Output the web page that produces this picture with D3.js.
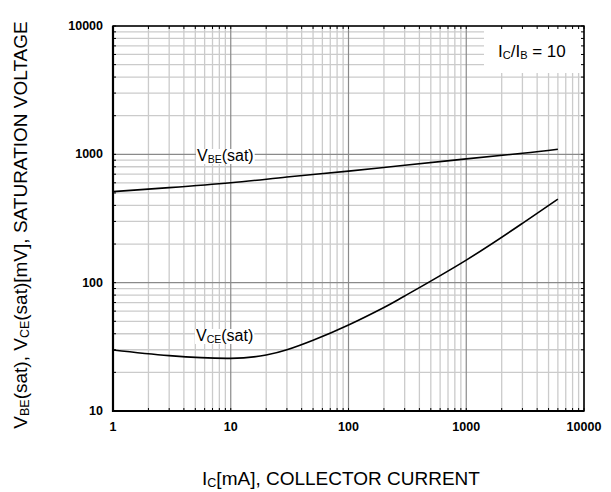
<!DOCTYPE html>
<html>
<head>
<meta charset="utf-8">
<script src="https://cdn.jsdelivr.net/npm/d3@7"></script>
<style>
  body { margin: 0; background: #fff; }
  text { font-family: "Liberation Sans", Arial, sans-serif; }
</style>
</head>
<body>
<div id="chart"></div>
<script>
// Saturation voltage vs collector current, Ic/Ib = 10
const xTicks = [1, 10, 100, 1000, 10000];
const yTicks = [10, 100, 1000, 10000];

const icVbe = [1, 3, 10, 30, 100, 300, 1000, 3000, 6000];
const vbeSat = [512, 550, 600, 665, 740, 822, 921, 1020, 1096];

const icVce = [1, 3, 10, 20, 30, 50, 100, 200, 300, 1000, 3000, 6000];
const vceSat = [29.9, 27.0, 25.7, 27.3, 30.0, 35.6, 46.8, 64.1, 78.8, 150, 290, 447];

const width = 611, height = 492;
const margin = { top: 26, right: 27, bottom: 81, left: 113 };

const svg = d3.select('#chart')
  .append('svg')
  .attr('width', width)
  .attr('height', height);

const x = d3.scaleLog()
  .domain([1, 10000])
  .range([margin.left, width - margin.right]);
const y = d3.scaleLog()
  .domain([10, 10000])
  .range([height - margin.bottom, margin.top]);

// minor / major grid values
const minorX = [], minorY = [];
for (let d = 1; d < 10000; d *= 10) for (let k = 2; k < 10; k++) minorX.push(d * k);
for (let d = 10; d < 10000; d *= 10) for (let k = 2; k < 10; k++) minorY.push(d * k);

const grid = svg.append('g');
grid.selectAll('.mx').data(minorX).join('line')
  .attr('x1', d => x(d)).attr('x2', d => x(d))
  .attr('y1', y(10)).attr('y2', y(10000))
  .attr('stroke', '#cbcbcb').attr('stroke-width', 1.3);
grid.selectAll('.my').data(minorY).join('line')
  .attr('y1', d => y(d)).attr('y2', d => y(d))
  .attr('x1', x(1)).attr('x2', x(10000))
  .attr('stroke', '#cbcbcb').attr('stroke-width', 1.3);
grid.selectAll('.Mx').data(xTicks).join('line')
  .attr('x1', d => x(d)).attr('x2', d => x(d))
  .attr('y1', y(10)).attr('y2', y(10000))
  .attr('stroke', '#8a8a8a').attr('stroke-width', 1.2);
grid.selectAll('.My').data(yTicks).join('line')
  .attr('y1', d => y(d)).attr('y2', d => y(d))
  .attr('x1', x(1)).attr('x2', x(10000))
  .attr('stroke', '#8a8a8a').attr('stroke-width', 1.2);

// legend box covering grid
svg.append('rect')
  .attr('x', 484).attr('y', y(10000) + 1)
  .attr('width', x(10000) - 484 - 1).attr('height', 46)
  .attr('fill', '#fff');
const leg = svg.append('text').attr('x', 498).attr('y', 57)
  .attr('font-size', 17).attr('fill', '#000');
leg.append('tspan').text('I');
leg.append('tspan').text('C').attr('font-size', 11).attr('dy', 2);
leg.append('tspan').text('/I').attr('dy', -2);
leg.append('tspan').text('B').attr('font-size', 11).attr('dy', 2);
leg.append('tspan').text(' = 10').attr('dy', -2);

// inner ticks
const tk = svg.append('g').attr('stroke', '#000').attr('stroke-width', 1);
const allX = minorX.concat(xTicks), allY = minorY.concat(yTicks);
tk.selectAll('.tb').data(allX).join('line')
  .attr('x1', d => x(d)).attr('x2', d => x(d))
  .attr('y1', y(10)).attr('y2', y(10) - 3);
tk.selectAll('.tt').data(allX).join('line')
  .attr('x1', d => x(d)).attr('x2', d => x(d))
  .attr('y1', y(10000)).attr('y2', y(10000) + 3);
tk.selectAll('.tl').data(allY).join('line')
  .attr('y1', d => y(d)).attr('y2', d => y(d))
  .attr('x1', x(1)).attr('x2', x(1) + 3);
tk.selectAll('.tr').data(allY).join('line')
  .attr('y1', d => y(d)).attr('y2', d => y(d))
  .attr('x1', x(10000)).attr('x2', x(10000) - 3);

// frame
svg.append('rect')
  .attr('x', x(1)).attr('y', y(10000))
  .attr('width', x(10000) - x(1)).attr('height', y(10) - y(10000))
  .attr('fill', 'none').attr('stroke', '#000').attr('stroke-width', 1.5);
svg.append('path')
  .attr('d', `M${x(1)},${y(10000)}V${y(10)}H${x(10000)}`)
  .attr('fill', 'none').attr('stroke', '#000').attr('stroke-width', 2.2);

// tick labels
svg.append('g').selectAll('text').data(xTicks).join('text')
  .attr('x', d => x(d)).attr('y', y(10) + 20)
  .attr('text-anchor', 'middle').attr('font-size', 12.5).attr('font-weight', 'bold')
  .text(d => d);
svg.append('g').selectAll('text').data(yTicks).join('text')
  .attr('x', x(1) - 10).attr('y', d => y(d) + 4)
  .attr('text-anchor', 'end').attr('font-size', 12.5).attr('font-weight', 'bold')
  .text(d => d);

// curves
const line = d3.line()
  .x(d => x(d[0])).y(d => y(d[1]))
  .curve(d3.curveNatural);
svg.append('path')
  .datum(d3.zip(icVbe, vbeSat))
  .attr('d', line)
  .attr('fill', 'none').attr('stroke', '#000').attr('stroke-width', 1.6);
svg.append('path')
  .datum(d3.zip(icVce, vceSat))
  .attr('d', line)
  .attr('fill', 'none').attr('stroke', '#000').attr('stroke-width', 1.6);

// curve labels with white background
function curveLabel(px, py, sub) {
  const g = svg.append('g');
  const t = g.append('text').attr('x', px).attr('y', py).attr('font-size', 16);
  t.append('tspan').text('V');
  t.append('tspan').text(sub).attr('font-size', 10.5).attr('dy', 2);
  t.append('tspan').text('(sat)').attr('dy', -2);
  const bb = t.node().getBBox();
  g.insert('rect', 'text')
    .attr('x', bb.x - 1).attr('y', bb.y + 2)
    .attr('width', bb.width + 2).attr('height', bb.height - 3)
    .attr('fill', '#fff');
}
curveLabel(197, 161, 'BE');
curveLabel(196, 341, 'CE');

// axis titles
const xt = svg.append('text').attr('x', 341).attr('y', 485)
  .attr('text-anchor', 'middle').attr('font-size', 19);
xt.append('tspan').text('I');
xt.append('tspan').text('C').attr('font-size', 12.5).attr('dy', 2);
xt.append('tspan').text('[mA], COLLECTOR CURRENT').attr('dy', -2);

const yt = svg.append('text')
  .attr('transform', 'translate(27,225) rotate(-90)')
  .attr('text-anchor', 'middle').attr('font-size', 19);
yt.append('tspan').text('V');
yt.append('tspan').text('BE').attr('font-size', 12.5).attr('dy', 2);
yt.append('tspan').text('(sat),  V').attr('dy', -2);
yt.append('tspan').text('CE').attr('font-size', 12.5).attr('dy', 2);
yt.append('tspan').text('(sat)[mV], SATURATION VOLTAGE').attr('dy', -2);
</script>
</body>
</html>
